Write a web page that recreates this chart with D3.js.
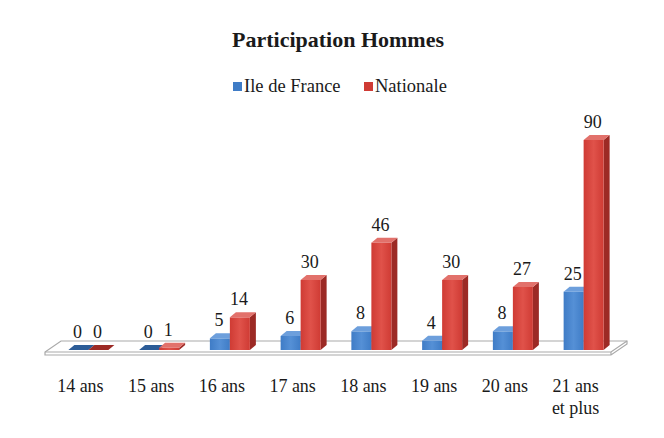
<!DOCTYPE html>
<html>
<head>
<meta charset="utf-8">
<script src="https://cdn.jsdelivr.net/npm/d3@7"></script>
<style>
  html, body { margin: 0; padding: 0; background: #ffffff; }
  svg { display: block; }
  svg text { font-family: 'Liberation Serif', 'Times New Roman', Tinos, 'DejaVu Serif', serif; fill: #1a1a1a; }
</style>
</head>
<body>
<svg id="chart" width="664" height="438"></svg>
<script>
// ---- data ----
const title = "Participation Hommes";
const categories = ["14 ans", "15 ans", "16 ans", "17 ans", "18 ans", "19 ans", "20 ans", "21 ans\net plus"];
const seriesNames = ["Ile de France", "Nationale"];
const ileDeFrance = [0, 0, 5, 6, 8, 4, 8, 25];
const nationale = [0, 1, 14, 30, 46, 30, 27, 90];

// ---- layout ----
const FONT = "'Liberation Serif', 'Times New Roman', Tinos, 'DejaVu Serif', serif";
const svg = d3.select("#chart");
const baseY = 350;
const floorFront = 352, floorBack = 341;
const dX = 6, dY = 5;
const floorDX = 16;

const x = d3.scaleBand().domain(categories).range([45, 611]).paddingInner(0).paddingOuter(0);
const inner = d3.scaleBand().domain(seriesNames).range([0, 40]);
const y = d3.scaleLinear().domain([0, 90]).range([baseY, 140]);

const colors = {
  "Ile de France": { front: "#3f7cc6", light: "#5590d6", side: "#2c5c97", top: "#6d9fdc" },
  "Nationale":     { front: "#cf3b34", light: "#e0524a", side: "#9c2a25", top: "#e2716b" }
};

const defs = svg.append("defs");
seriesNames.forEach((s, i) => {
  const g = defs.append("linearGradient").attr("id", "g" + i).attr("x1", "0").attr("x2", "1").attr("y1", "0").attr("y2", "0");
  g.append("stop").attr("offset", "0%").attr("stop-color", colors[s].front);
  g.append("stop").attr("offset", "50%").attr("stop-color", colors[s].light);
  g.append("stop").attr("offset", "100%").attr("stop-color", colors[s].front);
});

// ---- title ----
svg.append("text").attr("x", 338).attr("y", 47).attr("text-anchor", "middle")
  .style("font-family", FONT).style("font-size", "22px").style("font-weight", "bold").text(title);

// ---- legend ----
const legendX = [233, 364];
seriesNames.forEach((s, i) => {
  svg.append("rect").attr("x", legendX[i]).attr("y", 82).attr("width", 9).attr("height", 9)
    .attr("fill", colors[s].front);
  svg.append("text").attr("x", legendX[i] + 11).attr("y", 92)
    .style("font-family", FONT).style("font-size", "18.5px").text(s);
});

// ---- floor ----
const x0 = x.range()[0], x1 = x.range()[1];
svg.append("path")
  .attr("d", `M${x0},${floorFront + 3} L${x1},${floorFront + 3} L${x1 + floorDX},${floorBack + 3} L${x1 + floorDX},${floorBack} L${x0 + floorDX},${floorBack} L${x0},${floorFront} Z`)
  .attr("fill", "#ffffff").attr("stroke", "#a9a9a9").attr("stroke-width", 1.2);
svg.append("path")
  .attr("d", `M${x0},${floorFront} L${x1},${floorFront} L${x1 + floorDX},${floorBack} M${x1},${floorFront} L${x1},${floorFront + 3}`)
  .attr("fill", "none").attr("stroke", "#a9a9a9").attr("stroke-width", 1.2);

// ---- bars ----
const seriesData = [ileDeFrance, nationale];
const barW = inner.bandwidth();
const bars = svg.append("g");
categories.forEach((c, ci) => {
  const cx = x(c) + x.bandwidth() / 2 + 8;
  seriesNames.forEach((s, si) => {
    const v = seriesData[si][ci];
    const bx = cx - 20 + inner(s);
    const ty = y(v);
    const col = colors[s];
    const g = bars.append("g");
    if (v > 0) {
      g.append("path")
        .attr("d", `M${bx + barW},${ty} L${bx + barW + dX},${ty - dY} L${bx + barW + dX},${baseY - dY} L${bx + barW},${baseY} Z`)
        .attr("fill", col.side);
      g.append("rect").attr("x", bx).attr("y", ty).attr("width", barW).attr("height", baseY - ty)
        .attr("fill", `url(#g${si})`);
      g.append("path")
        .attr("d", `M${bx},${ty} L${bx + dX},${ty - dY} L${bx + barW + dX},${ty - dY} L${bx + barW},${ty} Z`)
        .attr("fill", col.top);
    } else {
      g.append("path")
        .attr("d", `M${bx},${ty} L${bx + dX},${ty - dY} L${bx + barW + dX},${ty - dY} L${bx + barW},${ty} Z`)
        .attr("fill", col.side);
    }
    svg.append("text").attr("x", bx + barW / 2 - 1).attr("y", ty - 12)
      .attr("text-anchor", "middle").style("font-family", FONT).style("font-size", "18px").text(v);
  });
});

// ---- category axis ----
const axis = svg.append("g").attr("transform", `translate(0,${floorFront + 3})`)
  .call(d3.axisBottom(x).tickSize(0).tickPadding(0));
axis.select(".domain").remove();
axis.attr("font-family", null).attr("font-size", null);
axis.selectAll(".tick text").each(function(d) {
  const t = d3.select(this);
  t.text(null).attr("y", 0).attr("dy", null)
    .style("font-size", "18px").style("font-family", FONT).attr("fill", "#1a1a1a");
  d.split("\n").forEach((line, li) => {
    t.append("tspan").attr("x", 0).attr("y", 37 + li * 22).text(line);
  });
});
</script>
</body>
</html>
